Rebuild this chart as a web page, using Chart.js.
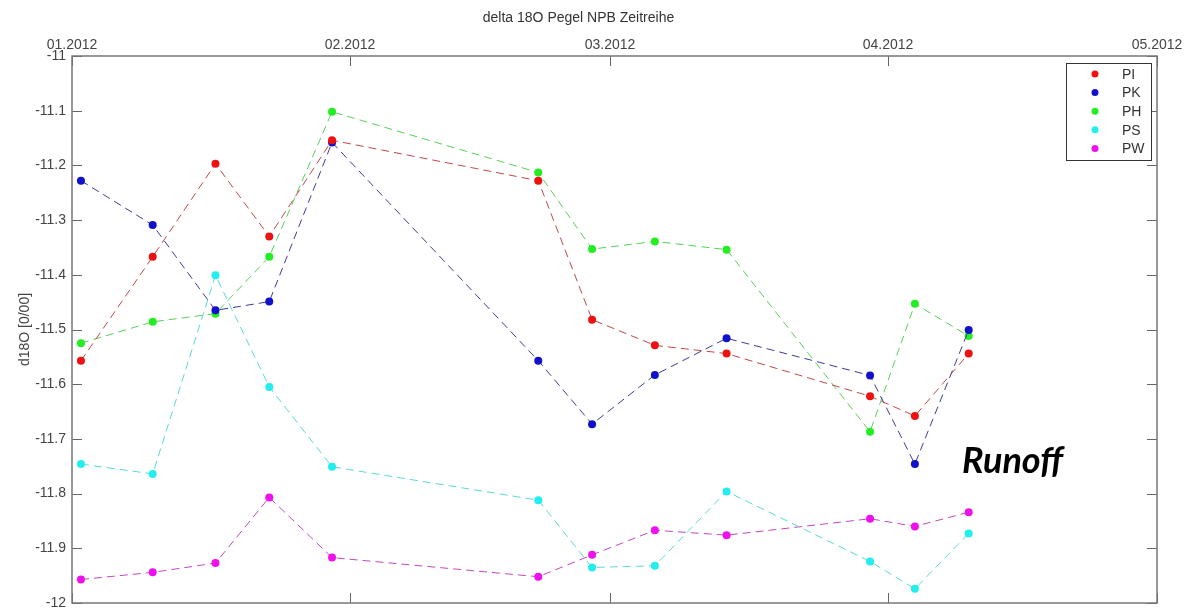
<!DOCTYPE html>
<html>
<head>
<meta charset="utf-8">
<script src="https://cdn.jsdelivr.net/npm/chart.js@4.4.1/dist/chart.umd.min.js"></script>
<style>
  body { margin: 0; background: #fff; }
  #wrap { position: relative; width: 1186px; height: 611px; }
</style>
</head>
<body>
<div id="wrap"><canvas id="mainChart" width="1186" height="611"></canvas></div>
<script>
// days since 01.01.2012 of each sampling
const sampleDays = [1, 9, 16, 22, 29, 52, 58, 65, 73, 89, 94, 100];
const monthTicks = [0, 31, 60, 91, 121];
const monthLabels = ["01.2012", "02.2012", "03.2012", "04.2012", "05.2012"];

const seriesNames = ["PI", "PK", "PH", "PS", "PW"];
const valuesPI = [-11.557, -11.367, -11.197, -11.330, -11.154, -11.228, -11.482, -11.529, -11.544, -11.622, -11.658, -11.544];
const valuesPK = [-11.228, -11.309, -11.465, -11.449, -11.158, -11.557, -11.673, -11.583, -11.516, -11.584, -11.746, -11.501];
const valuesPH = [-11.525, -11.486, -11.471, -11.367, -11.102, -11.213, -11.353, -11.339, -11.354, -11.687, -11.453, -11.512];
const valuesPS = [-11.746, -11.764, -11.401, -11.605, -11.751, -11.812, -11.935, -11.932, -11.796, -11.924, -11.974, -11.873];
const valuesPW = [-11.957, -11.944, -11.927, -11.807, -11.917, -11.952, -11.912, -11.867, -11.876, -11.846, -11.860, -11.834];

const allValues = [valuesPI, valuesPK, valuesPH, valuesPS, valuesPW];
const dotColors = ["#ee1111", "#1111cc", "#22ee22", "#22eeee", "#ee11ee"];
const lineColors = ["#c04848", "#3c3c96", "#58d058", "#58d8d8", "#c048c0"];

const axisFont = {family: "'Liberation Sans', Arial, sans-serif", size: 14};
const textColor = "#444";
const titleSize = 14;

// inward tick marks on all four sides, like a boxed MATLAB axes
const boxTicks = {
  id: "boxTicks",
  afterDraw(chart) {
    const {ctx, chartArea: a, scales} = chart;
    ctx.save();
    ctx.strokeStyle = "#666";
    ctx.lineWidth = 1;
    ctx.beginPath();
    scales.x.ticks.forEach(t => {
      const px = Math.round(scales.x.getPixelForValue(t.value)) + 0.5;
      ctx.moveTo(px, a.top); ctx.lineTo(px, a.top + 10);
      ctx.moveTo(px, a.bottom); ctx.lineTo(px, a.bottom - 10);
    });
    scales.y.ticks.forEach(t => {
      const py = Math.round(scales.y.getPixelForValue(t.value)) + 0.5;
      ctx.moveTo(a.left, py); ctx.lineTo(a.left + 10, py);
      ctx.moveTo(a.right, py); ctx.lineTo(a.right - 10, py);
    });
    ctx.stroke();
    ctx.strokeStyle = "#777";
    ctx.lineWidth = 1.5;
    ctx.strokeRect(a.left, a.top, a.right - a.left, a.bottom - a.top);

    // legend box in the upper right corner
    const lx = a.right - 91, ly = a.top + 7, lw = 85, lh = 97;
    ctx.fillStyle = "#fff";
    ctx.fillRect(lx, ly, lw, lh);
    ctx.strokeStyle = "#333";
    ctx.lineWidth = 1;
    ctx.strokeRect(lx + 0.5, ly + 0.5, lw, lh);
    ctx.font = "14px 'Liberation Sans', Arial, sans-serif";
    ctx.textBaseline = "middle";
    ctx.textAlign = "left";
    chart.data.datasets.forEach((ds, i) => {
      const cy = ly + 11 + i * 18.6;
      ctx.fillStyle = ds.pointBackgroundColor;
      ctx.beginPath();
      ctx.arc(lx + 29, cy, 3.5, 0, Math.PI * 2);
      ctx.fill();
      ctx.fillStyle = "#333";
      ctx.fillText(ds.label, lx + 56, cy + 1);
    });

    ctx.fillStyle = "#000";
    ctx.font = "italic bold 36px Lato, 'Open Sans', sans-serif";
    ctx.textBaseline = "alphabetic";
    ctx.fillText("Runoff", 962, 473);
    ctx.restore();
  }
};

const datasets = seriesNames.map((name, i) => ({
  label: name,
  data: sampleDays.map((d, j) => ({x: d, y: allValues[i][j]})),
  borderColor: lineColors[i],
  borderWidth: 1,
  borderDash: [8, 5],
  pointBackgroundColor: dotColors[i],
  pointBorderWidth: 0,
  pointRadius: 4,
  tension: 0
}));

new Chart(document.getElementById("mainChart"), {
  type: "line",
  data: {datasets},
  options: {
    responsive: false,
    animation: false,
    devicePixelRatio: 1,
    layout: {padding: {top: 0, left: 0, right: 29, bottom: 8}},
    plugins: {
      legend: {display: false},
      tooltip: {enabled: false},
      title: {
        display: true,
        text: "delta 18O Pegel NPB Zeitreihe",
        color: "#333",
        font: {family: axisFont.family, size: titleSize, weight: "normal"},
        padding: {top: 10, bottom: 0}
      }
    },
    scales: {
      x: {
        type: "linear",
        position: "top",
        min: 0,
        max: 121,
        afterBuildTicks: s => { s.ticks = monthTicks.map(v => ({value: v})); },
        afterFit: s => {
          s.height = 56 - (10 + titleSize * 1.2);
          s.paddingLeft = 0; s.paddingRight = 0;
        },
        grid: {display: false, drawTicks: false},
        border: {display: false},
        ticks: {
          autoSkip: false,
          maxRotation: 0,
          padding: 2,
          color: textColor,
          font: axisFont,
          callback: v => monthLabels[monthTicks.indexOf(v)]
        }
      },
      y: {
        min: -12,
        max: -11,
        afterFit: s => {
          s.width = 72;
          s.paddingTop = 0; s.paddingBottom = 0;
        },
        grid: {display: false, drawTicks: false},
        border: {display: false},
        title: {
          display: true,
          text: "d18O [0/00]",
          color: textColor,
          font: axisFont,
          padding: {top: 17, bottom: 0}
        },
        ticks: {
          stepSize: 0.1,
          autoSkip: false,
          padding: 6,
          color: textColor,
          font: axisFont,
          callback: v => String(Math.round(v * 10) / 10)
        }
      }
    }
  },
  plugins: [boxTicks]
});
</script>
</body>
</html>
